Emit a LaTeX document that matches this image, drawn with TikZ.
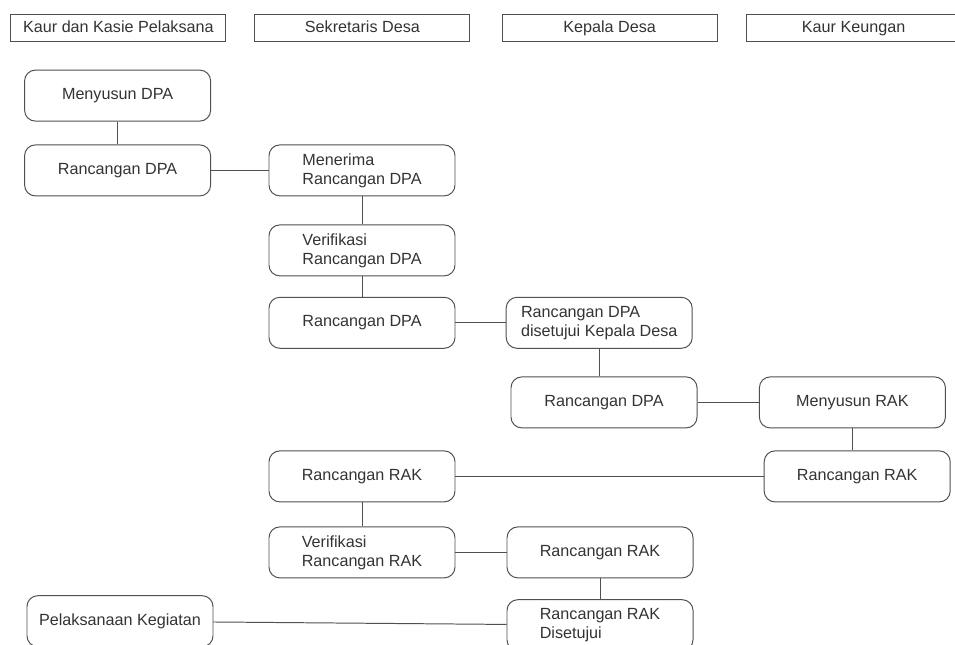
\documentclass[tikz,border=0pt]{standalone}
\usepackage{fontspec}
\setmainfont{Liberation Sans}
\usepackage{tikz}

\definecolor{linegray}{HTML}{505050}
\definecolor{textgray}{HTML}{333333}

\begin{document}
\begin{tikzpicture}[line width=0.7pt]
\useasboundingbox (0, 0) rectangle (23.875, -16.1);

\begin{scope}[every node/.style={draw=linegray,text=textgray,minimum width=5.375cm,minimum height=0.675cm,inner sep=0pt,text height=8.5pt,text depth=2.5pt,font=\fontsize{11.5}{13}\selectfont}]
	%Headers
	\node (H_1) at (2.96, -0.71) {Kaur dan Kasie Pelaksana};
	\node (H_2) at (9.06, -0.71) {Sekretaris Desa};
	\node (H_3) at (15.24, -0.71) {Kepala Desa};
	\node (H_4) at (21.34, -0.71) {Kaur Keungan};
\end{scope}

\begin{scope}[every node/.style={draw=linegray,text=textgray,rounded corners=0.27cm,minimum width=4.65cm,minimum height=1.275cm,inner sep=0pt,align=left,font=\fontsize{11.5}{13.5}\selectfont}]
	%DPA
	\node (C_1) at (2.94, -2.39) {Menyusun DPA};
	\node (C_2) at (2.94, -4.26) {Rancangan DPA};
	
	\node (C_3) at (9.05, -4.26) {Menerima\\Rancangan DPA};
	\node (C_4) at (9.05, -6.26) {Verifikasi\\Rancangan DPA};
	\node (C_5) at (9.05, -8.07) {Rancangan DPA};
	
	\node (C_6) at (14.98, -8.07) {Rancangan DPA\\disetujui Kepala Desa};
	\node (C_7) at (15.10, -10.06) {Rancangan DPA};
	
	%RAK
	\node (C_8) at (21.31, -10.06) {Menyusun RAK};
	\node (C_9) at (21.43, -11.91) {Rancangan RAK};
	
	\node (C_10) at (9.05, -11.91) {Rancangan RAK};
	\node (C_11) at (9.05, -13.81) {Verifikasi\\Rancangan RAK};
	
	\node (C_12) at (15.00, -13.81) {Rancangan RAK};
	\node (C_13) at (15.00, -15.63) {Rancangan RAK\\Disetujui};
	
	\node (C_14) at (3.00, -15.53) {Pelaksanaan Kegiatan};
\end{scope}

\begin{scope}[draw=linegray]
	%DPA
	\path [-] (C_1) edge (C_2);
	\path [-] (C_2) edge (C_3);
	\path [-] (C_3) edge (C_4);
	\path [-] (C_4) edge (C_5);
	\path [-] (C_5) edge (C_6);
	\path [-] (C_6) edge (C_6 |- C_7.north);
	
	%RAK
	\path [-] (C_7) edge (C_8);
	\path [-] (C_8.south) edge (C_8.south |- C_9.north);
	\path [-] (C_9) edge (C_10);
	\path [-] (C_10) edge (C_11);
	\path [-] (C_11) edge (C_12);
	\path [-] (C_12) edge (C_13);
	\path [-] (C_13) edge (C_14);
\end{scope}
\end{tikzpicture}
\end{document}
